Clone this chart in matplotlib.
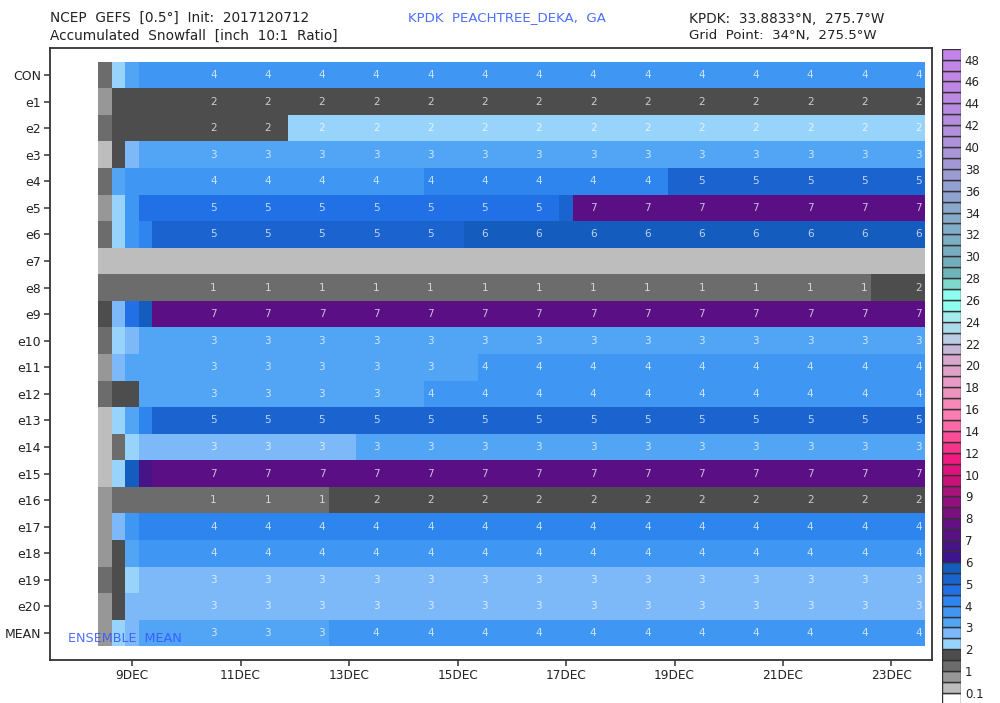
import matplotlib
matplotlib.use("Agg")
import matplotlib.pyplot as plt
from matplotlib.colors import ListedColormap, BoundaryNorm
import numpy as np

W, H = 1000, 703

members = ["CON", "e1", "e2", "e3", "e4", "e5", "e6", "e7", "e8", "e9", "e10",
           "e11", "e12", "e13", "e14", "e15", "e16", "e17", "e18", "e19", "e20", "MEAN"]

# snowfall per member as (inches, number of 6h steps)
con = [(1.25, 1), (2.25, 1), (3.25, 1), (3.75, 58)]
e1 = [(0.75, 1), (1.75, 60)]
e2 = [(1.25, 1), (1.75, 13), (2.25, 47)]
e3 = [(0.25, 1), (1.75, 1), (2.75, 1), (3.25, 58)]
e4 = [(1.25, 1), (3.25, 1), (3.75, 22), (4.25, 18), (5.25, 19)]
e5 = [(0.75, 1), (2.25, 1), (3.75, 1), (4.75, 31), (5.25, 1), (7.25, 26)]
e6 = [(1.25, 1), (2.25, 1), (3.75, 1), (4.25, 1), (5.25, 23), (5.75, 34)]
e7 = [(0.25, 61)]
e8 = [(1.25, 57), (1.75, 4)]
e9 = [(1.75, 1), (2.75, 1), (4.75, 1), (5.75, 1), (7.25, 57)]
e10 = [(1.25, 1), (2.25, 1), (2.75, 1), (3.25, 58)]
e11 = [(0.75, 1), (2.75, 1), (3.25, 26), (3.75, 33)]
e12 = [(1.25, 1), (1.75, 2), (3.25, 21), (3.75, 37)]
e13 = [(0.25, 1), (2.25, 1), (3.25, 1), (4.25, 1), (5.25, 57)]
e14 = [(0.25, 1), (1.25, 1), (2.25, 1), (2.75, 16), (3.25, 42)]
e15 = [(0.25, 1), (2.25, 1), (5.75, 1), (6.75, 1), (7.25, 57)]
e16 = [(0.75, 1), (1.25, 16), (1.75, 44)]
e17 = [(0.75, 1), (2.75, 1), (3.75, 1), (4.25, 58)]
e18 = [(0.75, 1), (1.75, 1), (3.25, 1), (3.75, 58)]
e19 = [(1.25, 1), (1.75, 1), (2.25, 1), (2.75, 58)]
e20 = [(0.75, 1), (1.75, 1), (2.75, 59)]
mean = [(0.75, 1), (2.25, 1), (2.75, 1), (3.25, 14), (3.75, 44)]

rows = [con, e1, e2, e3, e4, e5, e6, e7, e8, e9, e10, e11, e12, e13, e14, e15,
        e16, e17, e18, e19, e20, mean]

date_labels = ["9DEC", "11DEC", "13DEC", "15DEC", "17DEC", "19DEC", "21DEC", "23DEC"]
date_cols = [2, 10, 18, 26, 34, 42, 50, 58]

bounds = [0, 0.1, 0.5, 1, 1.5, 2, 2.5, 3, 3.5, 4, 4.5, 5, 5.5, 6, 6.5, 7, 7.5, 8, 8.5, 9, 9.5,
          10, 11, 12, 13, 14, 15, 16, 17, 18, 19, 20, 21, 22, 23, 24, 25, 26, 27, 28, 29, 30,
          31, 32, 33, 34, 35, 36, 37, 38, 39, 40, 41, 42, 43, 44, 45, 46, 47, 48, 49]
colors = ["#ffffff", "#bdbdbd", "#979797", "#6c6c6c", "#4d4d4d", "#97d3fb", "#7db8f8", "#52a5f5",
          "#3f97f3", "#2e85ee", "#2270e5", "#1b64cf", "#145dbf", "#3d1590", "#471488", "#5a1084",
          "#650f84", "#7c0f80", "#92107e", "#a8127a", "#c8127a", "#e0127c", "#f01a80", "#f5358c",
          "#f94d98", "#fb69a8", "#f97cb2", "#f58ab8", "#ec94be", "#e89ac4", "#dea2c8", "#d8a8cc",
          "#c6b7d8", "#bbcde5", "#acdbea", "#a5ebee", "#8ffff0", "#8ffcf0", "#7ed8cc", "#6fb4b8",
          "#74aebc", "#78adc0", "#7caec4", "#82adc8", "#86abca", "#8aa7cc", "#8fa3d0", "#95a0d2",
          "#9c9cd2", "#a398d6", "#a896d8", "#ad92da", "#b08fdc", "#b48ddf", "#b88be0", "#bc89e2",
          "#bf87e4", "#c186e6", "#c285e8", "#c384ea"]
cbar_ticks = {"0.1": 1, "1": 3, "2": 5, "3": 7, "4": 9, "5": 11, "6": 13, "7": 15, "8": 17, "9": 19}
for v in range(10, 50, 2):
    cbar_ticks[str(v)] = bounds.index(v)

grid = np.array([np.repeat([r[0] for r in row], [r[1] for r in row]) for row in rows])

fig = plt.figure(figsize=(W / 100, H / 100), dpi=100)


def px_axes(x0, y0, x1, y1):
    return fig.add_axes([x0 / W, 1 - y1 / H, (x1 - x0) / W, (y1 - y0) / H])


ax = px_axes(50, 48, 931.5, 660)
step = 13.56
row_h = 26.57
ax.set_xlim((50 - 105) / step, (931.5 - 105) / step)
ax.set_ylim((660 - 75) / row_h, (48 - 75) / row_h)

cmap = ListedColormap(colors)
norm = BoundaryNorm(bounds, cmap.N)
ax.pcolormesh(np.arange(62) - 0.5, np.arange(23) - 0.5, grid, cmap=cmap, norm=norm)

# numbers every 4th step, starting 10DEC 12Z
for i in range(grid.shape[0]):
    for j in range(8, 61, 4):
        label = int(np.floor(grid[i, j] + 0.5))
        if label > 0:
            ax.text(j, i, str(label), color="white", alpha=0.72, fontsize=7.5,
                    ha="center", va="center")

ax.text(-2.75, 21.19, "ENSEMBLE  MEAN", color="#3355ff", alpha=0.85, fontsize=9.2, va="center")

ax.set_yticks(range(len(members)))
ax.set_yticklabels(members, fontsize=9, color="#222222")
ax.set_xticks(date_cols)
ax.set_xticklabels(date_labels, fontsize=8.7, color="#222222")
ax.tick_params(axis="both", length=4, width=1.1, color="#333333", pad=2.5)
for s in ax.spines.values():
    s.set_linewidth(1.3)
    s.set_color("#333333")

# colour key
cax = px_axes(942, 48.7, 960.7, 703.9)
cax.barh(np.arange(len(colors)) + 0.5, np.ones(len(colors)), height=1, color=colors,
         edgecolor="#333333", linewidth=1)
cax.set_xlim(0, 1)
cax.set_ylim(0, len(colors))
cax.set_xticks([])
cax.set_yticks(list(cbar_ticks.values()))
cax.set_yticklabels(list(cbar_ticks.keys()), fontsize=8.5, color="#222222")
cax.yaxis.tick_right()
cax.tick_params(axis="y", length=0, pad=3)
for s in cax.spines.values():
    s.set_visible(False)

fig.text(50 / W, 1 - 18 / H, "NCEP  GEFS  [0.5°]  Init:  2017120712", fontsize=9.8, color="#222222", va="center")
fig.text(50 / W, 1 - 36 / H, "Accumulated  Snowfall  [inch  10:1  Ratio]", fontsize=9.8, color="#222222", va="center")
fig.text(408 / W, 1 - 18 / H, "KPDK  PEACHTREE_DEKA,  GA", fontsize=9.6, color="#4d6fff", va="center")
fig.text(689 / W, 1 - 19 / H, "KPDK:  33.8833°N,  275.7°W", fontsize=9.8, color="#222222", va="center")
fig.text(689 / W, 1 - 36 / H, "Grid  Point:  34°N,  275.5°W", fontsize=9.6, color="#222222", va="center")

fig.savefig("out.png", dpi=100)
